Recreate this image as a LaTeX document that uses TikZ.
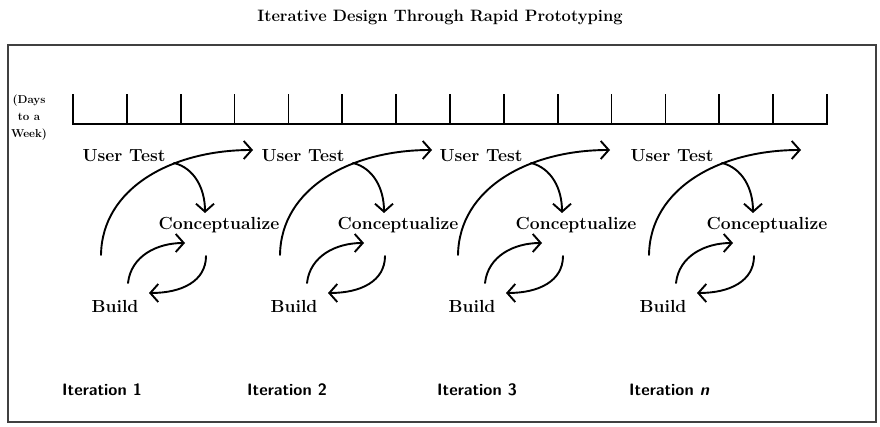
\documentclass[tikz,border=0pt]{standalone}
\usetikzlibrary{arrows.meta}
\begin{document}
\begin{tikzpicture}[x=1pt,y=-1pt,
  lbl/.style={font=\bfseries\fontsize{17.5}{20}\selectfont, inner sep=0pt},
  itlbl/.style={font=\sffamily\bfseries\fontsize{16.5}{18}\selectfont, anchor=west, inner sep=0pt},
  flow/.style={line width=1.9pt, line cap=round,
    -{Straight Barb[length=8pt,width=18pt,line width=1.9pt]}},
  frame/.style={line width=1.5pt, draw=black!75},
  axis/.style={line width=1.7pt, line cap=rect}]
\useasboundingbox (0,0) rectangle (880,427);

% title and outer frame
\node[font=\bfseries\fontsize{16.5}{18}\selectfont, inner sep=0pt] (title) at (440,17)
  {Iterative Design Through Rapid Prototyping};
\draw[frame] (8,45) rectangle (876,422);

% time scale
\node[align=center, inner sep=0pt, font=\bfseries\fontsize{11.5}{17}\selectfont] (days) at (29,118)
  {(Days\\to a\\Week)};
\draw[axis] (73,95) -- (73,124) -- (827,124) -- (827,95);
\foreach \k in {1,...,13}
  \draw[axis] ({73+\k*53.857},95) -- ++(0,29);

% one user-test / conceptualize / build cycle per iteration
\foreach \i/\dx in {1/0,2/179,3/357,4/548}{
  \begin{scope}[xshift=\dx pt]
    \node[lbl] (ut\i) at (124,156) {User Test};
    \node[lbl] (cz\i) at (219,225) {Conceptualize};
    \node[lbl] (bd\i) at (115,306) {Build};
    \coordinate (arcS\i) at (101,255);
    \coordinate (arcE\i) at (253,150);
    \coordinate (fork\i) at (174,163);
    \coordinate (czIn\i) at (205,213);
    \coordinate (upS\i) at (128,283);
    \coordinate (upE\i) at (185,243);
    \coordinate (dnS\i) at (206,256);
    \coordinate (dnE\i) at (149,293);
    \draw[flow] (arcS\i) .. controls (102,188) and (172,150) .. (arcE\i);
    \draw[flow] (fork\i) .. controls (194,168) and (205,188) .. (czIn\i);
    \draw[flow] (upS\i) .. controls (131,256) and (157,243) .. (upE\i);
    \draw[flow] (dnS\i) .. controls (206,281) and (182,293) .. (dnE\i);
  \end{scope}
}

% iteration captions
\node[itlbl] (it1) at (62,390) {Iteration 1};
\node[itlbl] (it2) at (247,390) {Iteration 2};
\node[itlbl] (it3) at (437,390) {Iteration 3};
\node[itlbl] (it4) at (629,390) {Iteration \textit{n}};
\end{tikzpicture}
\end{document}
